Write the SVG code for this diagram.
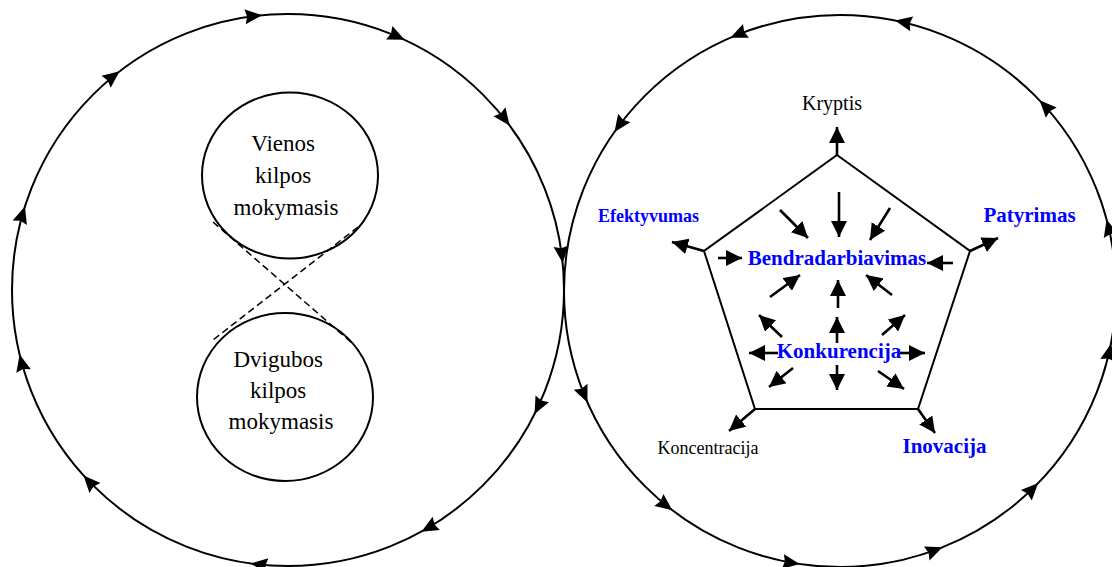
<svg xmlns="http://www.w3.org/2000/svg" xmlns:xlink="http://www.w3.org/1999/xlink" width="1112" height="567" viewBox="0 0 1112 567">
  <style>
    .ring { fill: none; stroke: #000; stroke-width: 2; }
    .loop { fill: none; stroke: #000; stroke-width: 2; }
    .dash { fill: none; stroke: #000; stroke-width: 1.5; stroke-dasharray: 7 4; }
    .pent { fill: none; stroke: #000; stroke-width: 2; stroke-linejoin: miter; }
    .arr { fill: none; stroke: #000; stroke-width: 2.6; marker-end: url(#head); }
    .serif { font-family: "Liberation Serif", "Times New Roman", serif; }
    .blk { fill: #000; }
    .blue { fill: #0000ff; font-weight: bold; }
  </style>
  <defs>
    <path id="tri" d="M0,0 L-17,-7.5 L-15,0 L-17,7.5 Z" fill="#000"/>
    <marker id="head" markerUnits="userSpaceOnUse" markerWidth="18" markerHeight="16" refX="16" refY="8" orient="auto">
      <path d="M0,0 L16,8 L0,16 Z" fill="#000"/>
    </marker>
  </defs>

  <rect width="1112" height="567" fill="#fff"/>

  <!-- left ring: clockwise flow -->
  <g id="ring-left">
    <circle class="ring" cx="288" cy="290" r="276"/>
    <g transform="translate(288 290)">
      <use xlink:href="#tri" transform="rotate(-95.4) translate(276 0) rotate(90)"/>
      <use xlink:href="#tri" transform="rotate(-127.6) translate(276 0) rotate(90)"/>
      <use xlink:href="#tri" transform="rotate(-162.4) translate(276 0) rotate(90)"/>
      <use xlink:href="#tri" transform="rotate(166.5) translate(276 0) rotate(90)"/>
      <use xlink:href="#tri" transform="rotate(137.8) translate(276 0) rotate(90)"/>
      <use xlink:href="#tri" transform="rotate(97.8) translate(276 0) rotate(90)"/>
      <use xlink:href="#tri" transform="rotate(61.1) translate(276 0) rotate(90)"/>
      <use xlink:href="#tri" transform="rotate(26.7) translate(276 0) rotate(90)"/>
      <use xlink:href="#tri" transform="rotate(-5.6) translate(276 0) rotate(90)"/>
      <use xlink:href="#tri" transform="rotate(-36.6) translate(276 0) rotate(90)"/>
      <use xlink:href="#tri" transform="rotate(-65) translate(276 0) rotate(90)"/>
    </g>
  </g>

  <!-- right ring: counter-clockwise flow -->
  <g id="ring-right">
    <circle class="ring" cx="840" cy="291" r="276"/>
    <g transform="translate(840 291)">
      <use xlink:href="#tri" transform="rotate(-78.5) translate(276 0) rotate(-90)"/>
      <use xlink:href="#tri" transform="rotate(-113.4) translate(276 0) rotate(-90)"/>
      <use xlink:href="#tri" transform="rotate(-144.8) translate(276 0) rotate(-90)"/>
      <use xlink:href="#tri" transform="rotate(156.2) translate(276 0) rotate(-90)"/>
      <use xlink:href="#tri" transform="rotate(127.4) translate(276 0) rotate(-90)"/>
      <use xlink:href="#tri" transform="rotate(98.4) translate(276 0) rotate(-90)"/>
      <use xlink:href="#tri" transform="rotate(68.2) translate(276 0) rotate(-90)"/>
      <use xlink:href="#tri" transform="rotate(44.1) translate(276 0) rotate(-90)"/>
      <use xlink:href="#tri" transform="rotate(11) translate(276 0) rotate(-90)"/>
      <use xlink:href="#tri" transform="rotate(-15) translate(276 0) rotate(-90)"/>
      <use xlink:href="#tri" transform="rotate(-43.7) translate(276 0) rotate(-90)"/>
    </g>
  </g>

  <!-- dashed crossing between the two learning loops -->
  <g id="connectors-loops">
    <line class="dash" x1="213" y1="222" x2="352" y2="343"/>
    <line class="dash" x1="358" y1="227" x2="213" y2="340"/>
  </g>

  <g id="node-single-loop">
    <ellipse class="loop" cx="290" cy="175.5" rx="88" ry="83"/>
    <text class="serif blk" font-size="23" text-anchor="middle">
      <tspan x="286" y="151">Vienos</tspan>
      <tspan x="286" y="183">kilpos</tspan>
      <tspan x="286" y="215">mokymasis</tspan>
    </text>
  </g>

  <g id="node-double-loop">
    <ellipse class="loop" cx="285" cy="397" rx="88" ry="84"/>
    <text class="serif blk" font-size="23" text-anchor="middle">
      <tspan x="281" y="367">Dvigubos</tspan>
      <tspan x="281" y="398">kilpos</tspan>
      <tspan x="281" y="429">mokymasis</tspan>
    </text>
  </g>

  <!-- pentagon frame -->
  <g id="node-pentagon">
    <polygon class="pent" points="837,155 970,251 918,409 755,409 704,251"/>
  </g>

  <!-- arrows out of the pentagon corners -->
  <g id="connectors-corners">
    <line class="arr" x1="837" y1="155" x2="837" y2="127"/>
    <line class="arr" x1="704" y1="251" x2="672" y2="242"/>
    <line class="arr" x1="970" y1="251" x2="998" y2="238"/>
    <line class="arr" x1="755" y1="409" x2="729" y2="431"/>
    <line class="arr" x1="918" y1="409" x2="935" y2="433"/>
  </g>

  <!-- arrows converging on cooperation -->
  <g id="connectors-in">
    <line class="arr" x1="780" y1="210" x2="808" y2="238"/>
    <line class="arr" x1="839" y1="192" x2="839" y2="237"/>
    <line class="arr" x1="890" y1="208" x2="870" y2="240"/>
    <line class="arr" x1="718" y1="258" x2="742" y2="258"/>
    <line class="arr" x1="953" y1="263" x2="927" y2="263"/>
    <line class="arr" x1="770" y1="297" x2="800" y2="275"/>
    <line class="arr" x1="838" y1="308" x2="838" y2="280"/>
    <line class="arr" x1="892" y1="295" x2="866" y2="275"/>
  </g>

  <!-- arrows spreading from competition -->
  <g id="connectors-out">
    <line class="arr" x1="782" y1="337" x2="759" y2="315"/>
    <line class="arr" x1="837" y1="343" x2="837" y2="317"/>
    <line class="arr" x1="882" y1="335" x2="905" y2="315"/>
    <line class="arr" x1="778" y1="353" x2="749" y2="353"/>
    <line class="arr" x1="900" y1="353" x2="925" y2="353"/>
    <line class="arr" x1="793" y1="368" x2="769" y2="387"/>
    <line class="arr" x1="837" y1="365" x2="837" y2="390"/>
    <line class="arr" x1="878" y1="371" x2="904" y2="389"/>
  </g>

  <g id="label-kryptis"><text class="serif blk" font-size="20" text-anchor="middle" x="832" y="110">Kryptis</text></g>
  <g id="label-efektyvumas"><text class="serif blue" font-size="18" text-anchor="middle" x="648.5" y="222">Efektyvumas</text></g>
  <g id="label-patyrimas"><text class="serif blue" font-size="21" text-anchor="middle" x="1029.5" y="222">Patyrimas</text></g>
  <g id="label-koncentracija"><text class="serif blk" font-size="18" text-anchor="middle" x="708" y="454">Koncentracija</text></g>
  <g id="label-inovacija"><text class="serif blue" font-size="21" text-anchor="middle" x="944.5" y="453">Inovacija</text></g>
  <g id="label-bendradarbiavimas"><text class="serif blue" font-size="21" text-anchor="middle" x="837" y="265">Bendradarbiavimas</text></g>
  <g id="label-konkurencija"><text class="serif blue" font-size="21" text-anchor="middle" x="839" y="358">Konkurencija</text></g>
</svg>
